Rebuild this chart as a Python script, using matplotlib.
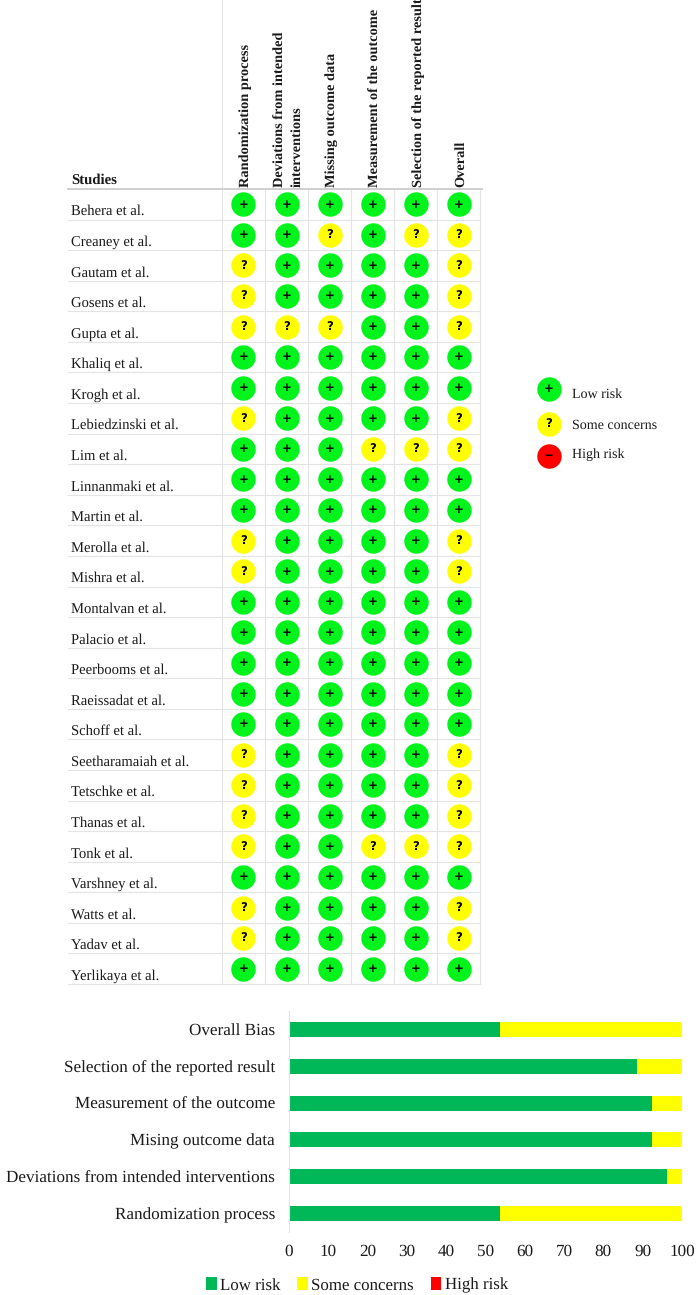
import matplotlib
matplotlib.use("Agg")
import matplotlib.pyplot as plt
from matplotlib.transforms import blended_transform_factory

plt.rcParams['font.family'] = ['Liberation Serif', 'DejaVu Serif']
plt.rcParams['text.hinting'] = 'none'
plt.rcParams['text.kerning_factor'] = 0

#data
studies = ["Behera et al.", "Creaney et al.", "Gautam et al.", "Gosens et al.", "Gupta et al.",
           "Khaliq et al.", "Krogh et al.", "Lebiedzinski et al.", "Lim et al.", "Linnanmaki et al.",
           "Martin et al.", "Merolla et al.", "Mishra et al.", "Montalvan et al.", "Palacio et al.",
           "Peerbooms et al.", "Raeissadat et al.", "Schoff et al.", "Seetharamaiah et al.", "Tetschke et al.",
           "Thanas et al.", "Tonk et al.", "Varshney et al.", "Watts et al.", "Yadav et al.", "Yerlikaya et al."]
domains = ["Randomization process", "Deviations from intended\ninterventions", "Missing outcome data",
           "Measurement of the outcome", "Selection of the reported result", "Overall"]
# L = low risk, S = some concerns, one string per study
ratings = ["LLLLLL", "LLSLSS", "SLLLLS", "SLLLLS", "SSSLLS", "LLLLLL", "LLLLLL", "SLLLLS", "LLLSSS",
           "LLLLLL", "LLLLLL", "SLLLLS", "SLLLLS", "LLLLLL", "LLLLLL", "LLLLLL", "LLLLLL", "LLLLLL",
           "SLLLLS", "SLLLLS", "SLLLLS", "SLLSSS", "LLLLLL", "SLLLLS", "SLLLLS", "LLLLLL"]

bar_labels = ["Randomization process", "Deviations from intended interventions", "Mising outcome data",
              "Measurement of the outcome", "Selection of the reported result", "Overall Bias"]
low_risk = [53.8, 96.2, 92.3, 92.3, 88.5, 53.8]
some_concerns = [46.2, 3.8, 7.7, 7.7, 11.5, 46.2]
high_risk = [0, 0, 0, 0, 0, 0]
x_ticks = [0, 10, 20, 30, 40, 50, 60, 70, 80, 90, 100]

W, H = 699, 1295
GREEN = '#00f41c'
YELLOW = '#ffff00'
RED = '#ff0000'
GRID = '#e4e4e4'
INK = '#1a1a1a'

def box(left, top, right, bottom):
    return [left / W, 1 - bottom / H, (right - left) / W, (bottom - top) / H]

fig = plt.figure(figsize=(W / 100, H / 100), dpi=100)

#traffic light table
ax = fig.add_axes(box(222, 189, 480, 984))
ax.set_xlim(-0.5, 5.5)
ax.set_ylim(25.5, -0.5)
ax.axis('off')

for col in range(7):
    ax.plot([col - 0.5, col - 0.5], [-0.5, 25.5], color=GRID, lw=0.8, clip_on=False, zorder=1)
ax.plot([-0.5, -0.5], [-6.7, -0.5], color=GRID, lw=0.8, clip_on=False, zorder=1)

to_left = blended_transform_factory(fig.transFigure, ax.transData)
for row in range(1, 27):
    ax.plot([68 / W, 480 / W], [row - 0.5, row - 0.5], color=GRID, lw=0.8, transform=to_left,
            clip_on=False, zorder=1)
ax.plot([68 / W, 482 / W], [-0.5, -0.5], color='#cfcfcf', lw=1.4, transform=to_left, clip_on=False, zorder=1)

ax.text(71 / W, -0.55, "Studies", transform=to_left, fontsize=10.6, fontweight='bold', color=INK, va='bottom')
for row, name in enumerate(studies):
    ax.text(71 / W, row + 0.24, name, transform=to_left, fontsize=10.5, color=INK, va='center')

for col, name in enumerate(domains):
    ax.text(col + 0.06, -0.58, name, rotation=90, ha='center', va='bottom', fontsize=10.4, fontweight='bold',
            color=INK, linespacing=1.4, multialignment='left')

for row, line in enumerate(ratings):
    for col, r in enumerate(line):
        ax.scatter(col, row, s=310, color=GREEN if r == 'L' else YELLOW, linewidths=0, zorder=3, clip_on=False)
        ax.text(col, row, '+' if r == 'L' else '?', ha='center', va='center', fontsize=8.5, fontweight='bold',
                color='black', family='DejaVu Sans', zorder=4)

#symbol legend
key = fig.add_axes([0, 0, 1, 1])
key.set_xlim(0, W)
key.set_ylim(H, 0)
key.axis('off')
key_labels = ["Low risk", "Some concerns", "High risk"]
key_colors = [GREEN, YELLOW, RED]
key_signs = ['+', '?', '\u2212']
key_y = [389, 424, 456]
label_y = [394, 425, 455]
for i in range(3):
    key.scatter(549, key_y[i], s=310, color=key_colors[i], linewidths=0)
    key.text(549, key_y[i], key_signs[i], ha='center', va='center', fontsize=8.5, fontweight='bold',
             family='DejaVu Sans', color='black')
    key.text(572, label_y[i], key_labels[i], fontsize=10.1, color=INK, va='center')

#summary bars
bx = fig.add_axes(box(289, 1011, 682, 1232))
y = range(len(bar_labels))
left2 = [a + b for a, b in zip(low_risk, some_concerns)]
b1 = bx.barh(y, low_risk, height=0.41, color='#00b858', label="Low risk")
b2 = bx.barh(y, some_concerns, left=low_risk, height=0.41, color='#ffff00', label="Some concerns")
b3 = bx.barh(y, high_risk, left=left2, height=0.41, color='#ff0000', label="High risk")
bx.set_xlim(0, 100)
bx.set_ylim(-0.5, 5.5)
bx.set_xticks(x_ticks)
bx.set_yticks(list(y))
bx.set_yticklabels(bar_labels)
bx.tick_params(axis='both', length=0, labelsize=12.3, labelcolor=INK)
bx.tick_params(axis='y', pad=10)
bx.tick_params(axis='x', pad=9)
for s in ['top', 'right', 'bottom']:
    bx.spines[s].set_visible(False)
bx.spines['left'].set_color(GRID)

bx.legend(handles=[b1, b2, b3], loc='center', bbox_to_anchor=(357 / W, 1 - 1285 / H), bbox_transform=fig.transFigure,
          ncol=3, frameon=False, fontsize=12.2, handlelength=0.62, handleheight=0.8, handletextpad=0.2,
          columnspacing=1.0, borderpad=0, labelcolor=INK)

fig.savefig('out.png', dpi=100)
plt.close()
